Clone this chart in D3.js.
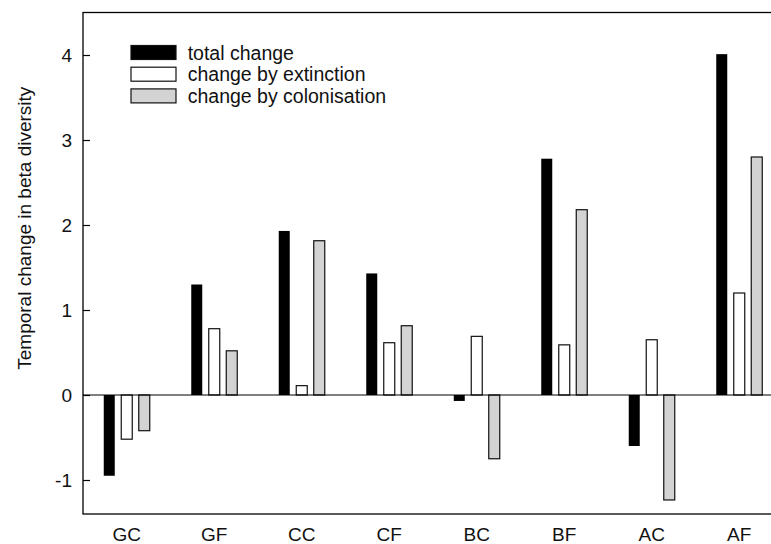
<!DOCTYPE html>
<html>
<head>
<meta charset="utf-8">
<script src="https://cdn.jsdelivr.net/npm/d3@7"></script>
<style>
  body { margin: 0; background: #fff; }
  svg { display: block; font-family: Arial, "Liberation Sans", sans-serif; }
</style>
</head>
<body>
<svg width="771" height="544"></svg>
<script>
const categories = ["GC", "GF", "CC", "CF", "BC", "BF", "AC", "AF"];
const seriesKeys = ["total", "extinction", "colonisation"];
const seriesLabels = ["total change", "change by extinction", "change by colonisation"];
const seriesColors = ["#000000", "#ffffff", "#d3d3d3"];

const totalChange = [-0.95, 1.30, 1.93, 1.43, -0.07, 2.78, -0.60, 4.01];
const extinctionChange = [-0.52, 0.78, 0.11, 0.615, 0.69, 0.59, 0.65, 1.20];
const colonisationChange = [-0.42, 0.52, 1.815, 0.815, -0.75, 2.18, -1.235, 2.80];

const yTicks = [-1, 0, 1, 2, 3, 4];
const yTitle = "Temporal change in beta diversity";

const data = categories.map((c, i) => ({
  cat: c,
  total: totalChange[i],
  extinction: extinctionChange[i],
  colonisation: colonisationChange[i]
}));

const margin = {top: 12.5, left: 83};
const width = 700, height = 501.5;

const svg = d3.select("svg");
const g = svg.append("g").attr("transform", "translate(" + margin.left + "," + margin.top + ")");

const x0 = d3.scaleBand().domain(categories).range([0, width]).padding(0);
const x1 = d3.scaleBand().domain(seriesKeys).range([-26.25, 26.25]);
const y = d3.scaleLinear().domain([-1.4, 4.5]).range([height, 0]);
const color = d3.scaleOrdinal().domain(seriesKeys).range(seriesColors);

const barW = 11;

// bars
const groups = g.selectAll(".grp")
  .data(data)
  .enter().append("g")
  .attr("class", "grp")
  .attr("transform", d => "translate(" + (x0(d.cat) + x0.bandwidth() / 2) + ",0)");

groups.selectAll("rect")
  .data(d => seriesKeys.map(k => ({key: k, value: d[k]})))
  .enter().append("rect")
  .attr("x", d => x1(d.key) + (x1.bandwidth() - barW) / 2)
  .attr("y", d => y(Math.max(0, d.value)))
  .attr("width", barW)
  .attr("height", d => Math.abs(y(d.value) - y(0)))
  .attr("fill", d => color(d.key))
  .attr("stroke", d => d.key === "total" ? "none" : "#111")
  .attr("stroke-width", 1.2);

// zero line
g.append("line")
  .attr("x1", 0).attr("x2", width)
  .attr("y1", y(0)).attr("y2", y(0))
  .attr("stroke", "#000").attr("stroke-width", 1.2);

// frame
g.append("rect")
  .attr("x", 0).attr("y", 0)
  .attr("width", width).attr("height", height)
  .attr("fill", "none").attr("stroke", "#000").attr("stroke-width", 1.3);

// y axis
const yAxis = g.append("g")
  .call(d3.axisLeft(y).tickValues(yTicks).tickSizeInner(-7).tickSizeOuter(0).tickPadding(11).tickFormat(d => String(d)));
yAxis.select(".domain").remove();
yAxis.selectAll("line").attr("stroke", "#000").attr("stroke-width", 1.2);
yAxis.selectAll("text").attr("font-size", 19).attr("font-family", "Arial, 'Liberation Sans', sans-serif").attr("fill", "#111");

// x labels
g.append("g").selectAll("text")
  .data(categories)
  .enter().append("text")
  .attr("x", d => x0(d) + x0.bandwidth() / 2)
  .attr("y", height + 27)
  .attr("text-anchor", "middle")
  .attr("font-size", 19)
  .attr("fill", "#111")
  .text(d => d);

// y title
svg.append("text")
  .attr("transform", "rotate(-90)")
  .attr("x", -86.7)
  .attr("y", 31)
  .attr("text-anchor", "end")
  .attr("font-size", 19)
  .attr("fill", "#111")
  .text(yTitle);

// legend
const legend = svg.append("g").selectAll(".legend")
  .data(seriesKeys)
  .enter().append("g")
  .attr("class", "legend")
  .attr("transform", (d, i) => "translate(131," + (45.5 + i * 21.7) + ")");

legend.append("rect")
  .attr("width", 45)
  .attr("height", 14)
  .attr("fill", d => color(d))
  .attr("stroke", "#111")
  .attr("stroke-width", 1.2);

legend.append("text")
  .attr("x", 56.7)
  .attr("y", 7)
  .attr("dy", "0.36em")
  .attr("font-size", 19.5)
  .attr("fill", "#111")
  .text((d, i) => seriesLabels[i]);
</script>
</body>
</html>
